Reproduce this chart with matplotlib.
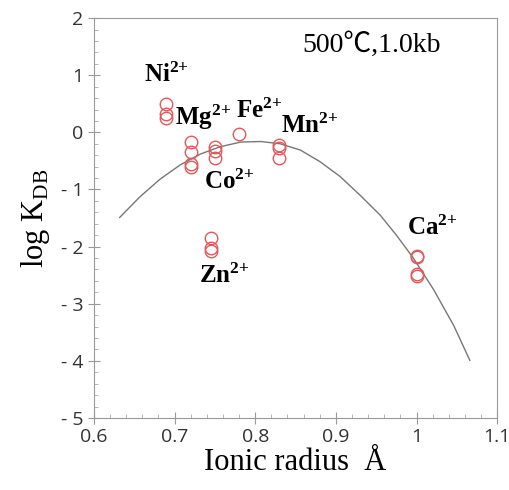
import matplotlib.pyplot as plt
import numpy as np

plt.rcParams['mathtext.fontset'] = 'custom'
plt.rcParams['mathtext.rm'] = 'Liberation Serif'
plt.rcParams['mathtext.bf'] = 'Liberation Serif:bold'

# measured points (ionic radius, log K)
ni_x = [0.69, 0.69, 0.69]
ni_y = [0.50, 0.32, 0.26]
mg_x = [0.72, 0.72, 0.72, 0.72]
mg_y = [-0.16, -0.35, -0.55, -0.60]
co_x = [0.75, 0.75, 0.75]
co_y = [-0.25, -0.33, -0.44]
fe_x = [0.78]
fe_y = [-0.02]
mn_x = [0.83, 0.83, 0.83]
mn_y = [-0.22, -0.27, -0.44]
zn_x = [0.745, 0.745, 0.745]
zn_y = [-1.85, -2.03, -2.08]
ca_x = [1.0, 1.0, 1.0, 1.0]
ca_y = [-2.16, -2.19, -2.48, -2.52]

# fitted curve
curve_x = [0.632, 0.657, 0.682, 0.707, 0.732, 0.757, 0.782, 0.807, 0.831,
           0.856, 0.880, 0.905, 0.930, 0.955, 0.975, 0.996, 1.021, 1.046, 1.066]
curve_y = [-1.49, -1.13, -0.82, -0.57, -0.38, -0.25, -0.17, -0.16, -0.20,
           -0.31, -0.51, -0.77, -1.10, -1.45, -1.80, -2.20, -2.75, -3.38, -3.99]

labels = [("Ni", 0.69, 1.0), ("Mg", 0.735, 0.27), ("Fe", 0.805, 0.38),
          ("Mn", 0.868, 0.12), ("Co", 0.768, -0.86), ("Zn", 0.762, -2.52),
          ("Ca", 1.02, -1.68)]

yticks = [2, 1, 0, -1, -2, -3, -4, -5]
ytick_labels = ["2", "1", "0", "- 1", "- 2", "- 3", "- 4", "- 5"]
xticks = [0.6, 0.7, 0.8, 0.9, 1.0, 1.1]
xtick_labels = ["0.6", "0.7", "0.8", "0.9", "1", "1.1"]

fig = plt.figure(figsize=(5.1, 4.9), dpi=100)
ax = fig.add_axes([0.184, 0.147, 0.791, 0.816])

ax.plot(curve_x, curve_y, color='#777777', lw=1.0)

all_x = ni_x + mg_x + co_x + fe_x + mn_x + zn_x + ca_x
all_y = ni_y + mg_y + co_y + fe_y + mn_y + zn_y + ca_y
ax.plot(all_x, all_y, 'o', ms=9, mfc='none', mec='#e05a5a', mew=1.0)

for name, lx, ly in labels:
    ax.text(lx, ly, r"$\mathbf{%s^{2{+}}}$" % name, fontsize=18,
            ha='center', va='center')

ax.text(0.944, 1.53, "500\u2103,1.0kb", fontsize=20,
        family=['Liberation Serif', 'Noto Sans CJK JP'],
        ha='center', va='center')

ax.set_xlim(0.6, 1.1)
ax.set_ylim(-5, 2)
ax.set_xticks(xticks)
ax.set_xticklabels(xtick_labels, family='Open Sans')
ax.set_yticks(yticks)
ax.set_yticklabels(ytick_labels, family='Open Sans')
ax.set_xticks(np.arange(0.6, 1.1, 0.02), minor=True)
ax.set_yticks(np.arange(-5, 2, 0.2), minor=True)
ax.tick_params(which='major', direction='inout', length=8, color='#999999',
               labelsize=14, labelcolor='#333333')
ax.tick_params(which='minor', direction='in', length=3, color='#aaaaaa')
for s in ax.spines.values():
    s.set_color('#999999')

ax.set_xlabel(u"Ionic radius  \u00c5", family='Liberation Serif', fontsize=22,
              labelpad=1)
ax.set_ylabel(r"log K$_{\mathrm{DB}}$", family='Liberation Serif', fontsize=22,
              labelpad=6)

plt.savefig("out.png")
